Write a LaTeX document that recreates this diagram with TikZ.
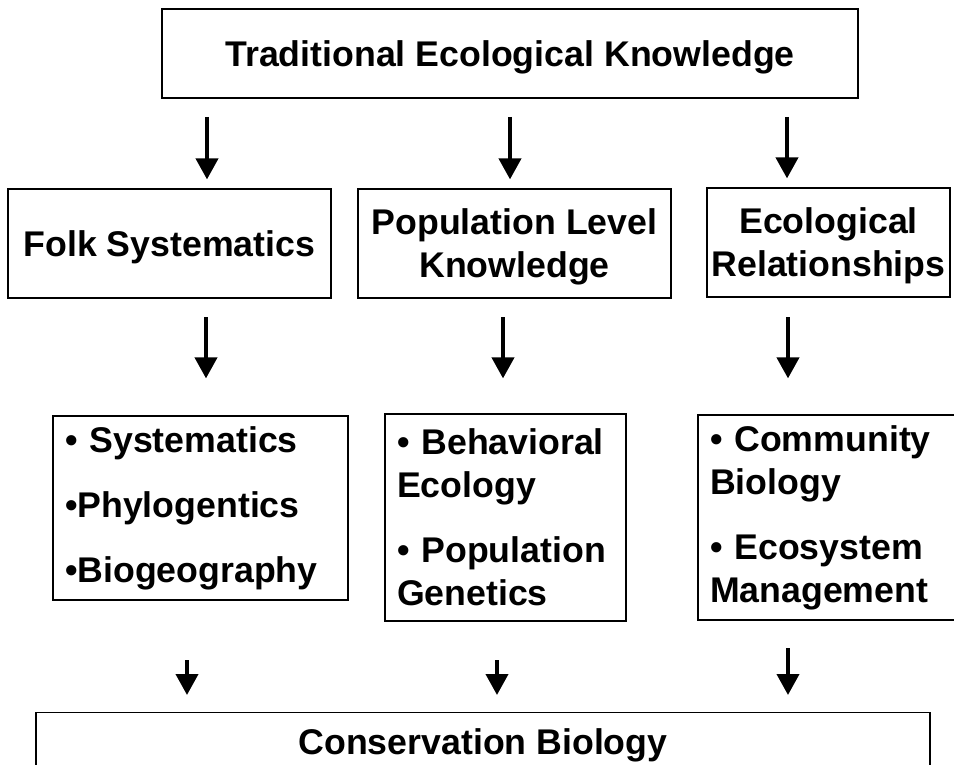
\documentclass[tikz,border=0pt]{standalone}
\usepackage{fontspec}
\setmainfont{Liberation Sans}
\usetikzlibrary{arrows.meta}
\tikzstyle{frame} = [draw, line width=1.2pt, inner sep=0pt, font=\fontsize{35.7}{43}\selectfont\bfseries]
\tikzstyle{box} = [frame, align=center, text depth=0pt]
\tikzstyle{list} = [frame, inner xsep=12pt, align=left]
\tikzstyle{arrow} = [-{Triangle[width=22pt,length=21pt]}, line width=4pt]

\begin{document}
\begin{tikzpicture}[x=1pt, y=-1pt]
			\useasboundingbox (0, 0) rectangle (954, 765);
			\clip (0, 0) rectangle (954, 765);
			
			\node(tek)[box, minimum width=696, minimum height=89] at (510, 53.5){Traditional Ecological Knowledge};
			
			\node(folk)[box, minimum width=323, minimum height=109] at (169.5, 243.5){Folk Systematics};
			\node(pop)[box, minimum width=313, minimum height=109] at (514.5, 243.5){Population Level\\Knowledge};
			\node(eco)[box, minimum width=243, minimum height=109] at (828.5, 242.5){Ecological\\Relationships};
			
			\node(sys)[list, text width=271, minimum height=184] at (200.5, 508){• Systematics\\[22pt]•Phylogentics\\[22pt]•Biogeography};
			\node(beh)[list, text width=217, minimum height=207] at (505.5, 517.5){• Behavioral\\Ecology\\[22pt]• Population\\Genetics};
			\node(com)[list, text width=258, minimum height=205] at (839, 517.5){• Community\\Biology\\[22pt]• Ecosystem\\Management};
			
			\node(cons)[box, minimum width=894, inner ysep=16pt, anchor=north] at (483, 712){Conservation Biology};
			
			\coordinate(a1) at (207, 117);
			\coordinate(a2) at (510, 117);
			\coordinate(a3) at (787, 117);
			\coordinate(b1) at (206, 317);
			\coordinate(b2) at (503, 317);
			\coordinate(b3) at (788, 317);
			\coordinate(c1) at (187, 660);
			\coordinate(c2) at (497, 660);
			\coordinate(c3) at (788, 648);
			
			\draw[arrow, shorten >=9pt](a1) -- (a1 |- folk.north);
			\draw[arrow, shorten >=9pt](a2) -- (a2 |- pop.north);
			\draw[arrow, shorten >=9pt](a3) -- (a3 |- eco.north);
			
			\draw[arrow, shorten >=37pt](b1) -- (b1 |- sys.north);
			\draw[arrow, shorten >=35pt](b2) -- (b2 |- beh.north);
			\draw[arrow, shorten >=36pt](b3) -- (b3 |- com.north);
			
			\draw[arrow, shorten >=17pt](c1) -- (c1 |- cons.north);
			\draw[arrow, shorten >=17pt](c2) -- (c2 |- cons.north);
			\draw[arrow, shorten >=17pt](c3) -- (c3 |- cons.north);
		\end{tikzpicture}
\end{document}
